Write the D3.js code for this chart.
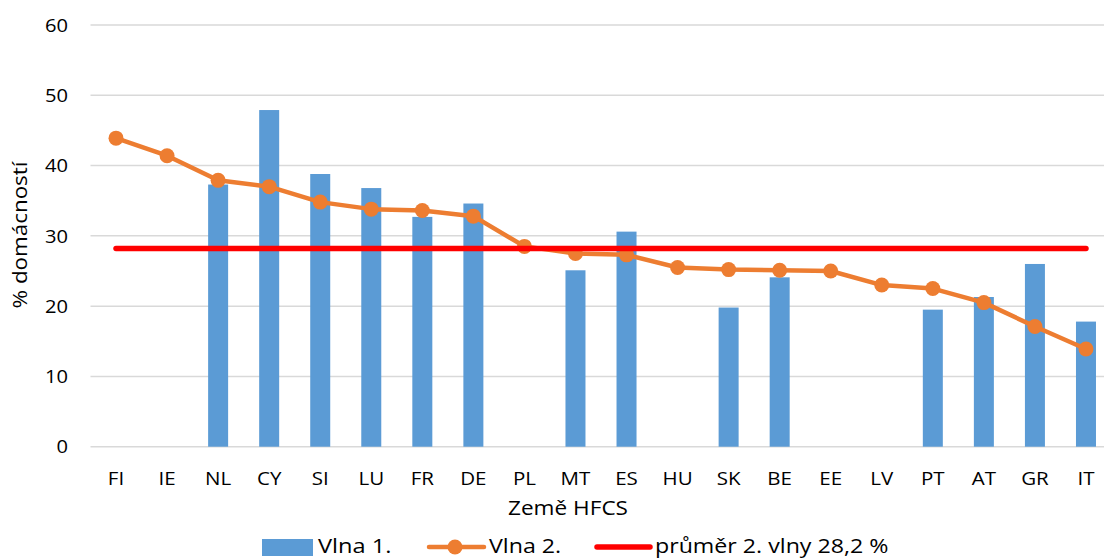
<!DOCTYPE html>
<html>
<head>
<meta charset="UTF-8">
<title>Vlna 1 / Vlna 2</title>
<script src="https://d3js.org/d3.v7.min.js"></script>
<style>
  body { margin: 0; background: #fff; }
  text { font-family: "Open Sans", Lato, sans-serif; fill: #000; }
</style>
</head>
<body>
<svg id="chart" width="1104" height="558"></svg>
<script>
const countries = ["FI","IE","NL","CY","SI","LU","FR","DE","PL","MT","ES","HU","SK","BE","EE","LV","PT","AT","GR","IT"];
const wave1 = [null,null,37.3,47.9,38.8,36.8,32.7,34.6,null,25.1,30.6,null,19.8,24.1,null,null,19.5,21.3,26.0,17.8];
const wave2 = [43.9,41.4,37.9,37.0,34.8,33.8,33.6,32.8,28.5,27.5,27.3,25.5,25.2,25.1,25.0,23.0,22.5,20.5,17.1,13.9];
const average = 28.2;
const yTicks = [0,10,20,30,40,50,60];
const legendLabels = ["Vlna 1.", "Vlna 2.", "průměr 2. vlny 28,2 %"];

const svg = d3.select("#chart");
const plot = {left: 90.5, right: 1111.5, top: 25, bottom: 446.7};

const x = d3.scaleBand().domain(countries).range([plot.left, plot.right]);
const y = d3.scaleLinear().domain([0, 60]).range([plot.bottom, plot.top]);
const cx = d => x(d) + x.bandwidth() / 2;
const barW = 20;

// text placed with a slight horizontal stretch (reference is wider than Open Sans)
function label(g, tx, ty, sx, txt, size, anchor) {
  return g.append("text")
      .attr("transform", `translate(${tx},${ty}) scale(${sx},1)`)
      .attr("text-anchor", anchor || "start")
      .style("font-size", size + "px")
      .text(txt);
}

// gridlines
svg.append("g").selectAll("line").data(yTicks).join("line")
    .attr("x1", plot.left).attr("x2", 1104)
    .attr("y1", d => y(d)).attr("y2", d => y(d))
    .attr("stroke", "#d9d9d9").attr("stroke-width", 1.5);

// y tick labels
svg.append("g").selectAll("text").data(yTicks).join("text")
    .attr("transform", d => `translate(68,${y(d)}) scale(1.06,1)`)
    .attr("dy", "0.35em")
    .attr("text-anchor", "end").style("font-size", "19px")
    .text(d => d);

// x tick labels
svg.append("g").selectAll("text").data(countries).join("text")
    .attr("transform", d => `translate(${cx(d)},485) scale(1.08,1)`)
    .attr("text-anchor", "middle").style("font-size", "19px")
    .text(d => d);

// bars (wave 1)
const barData = countries.map((c, i) => ({c, v: wave1[i]})).filter(d => d.v != null);
svg.append("g").selectAll("rect").data(barData).join("rect")
    .attr("x", d => cx(d.c) - barW / 2).attr("width", barW)
    .attr("y", d => y(d.v)).attr("height", d => y(0) - y(d.v))
    .attr("fill", "#5b9bd5");

// wave 2 line
const lineData = countries.map((c, i) => ({c, v: wave2[i]}));
const line = d3.line().x(d => cx(d.c)).y(d => y(d.v));
svg.append("path").datum(lineData)
    .attr("d", line).attr("fill", "none")
    .attr("stroke", "#ed7d31").attr("stroke-width", 4.5).attr("stroke-linejoin", "round");
svg.append("g").selectAll("circle").data(lineData).join("circle")
    .attr("cx", d => cx(d.c)).attr("cy", d => y(d.v)).attr("r", 7.5)
    .attr("fill", "#ed7d31");

// average line
svg.append("path").datum(countries.map(c => ({c, v: average})))
    .attr("d", line).attr("fill", "none")
    .attr("stroke", "#ff0000").attr("stroke-width", 5.5).attr("stroke-linecap", "round");

// axis titles
label(svg, 568, 515, 1.13, "Země HFCS", 20, "middle");
svg.append("text").attr("transform", "translate(27,235) rotate(-90) scale(1.12,1)")
    .attr("text-anchor", "middle").style("font-size", "20px").text("% domácností");

// legend
const ly = 547;
const lg = svg.append("g");
lg.append("rect").attr("x", 262).attr("y", ly - 8).attr("width", 51).attr("height", 17).attr("fill", "#5b9bd5");
label(lg, 318, 553, 1.18, legendLabels[0], 20);
lg.append("line").attr("x1", 429).attr("x2", 484).attr("y1", ly).attr("y2", ly)
    .attr("stroke", "#ed7d31").attr("stroke-width", 4.5).attr("stroke-linecap", "round");
lg.append("circle").attr("cx", 455).attr("cy", ly).attr("r", 7.5).attr("fill", "#ed7d31");
label(lg, 489, 553, 1.16, legendLabels[1], 20);
lg.append("line").attr("x1", 597).attr("x2", 650).attr("y1", ly).attr("y2", ly)
    .attr("stroke", "#ff0000").attr("stroke-width", 5.5).attr("stroke-linecap", "round");
label(lg, 655, 553, 1.16, legendLabels[2], 20);
</script>
</body>
</html>
